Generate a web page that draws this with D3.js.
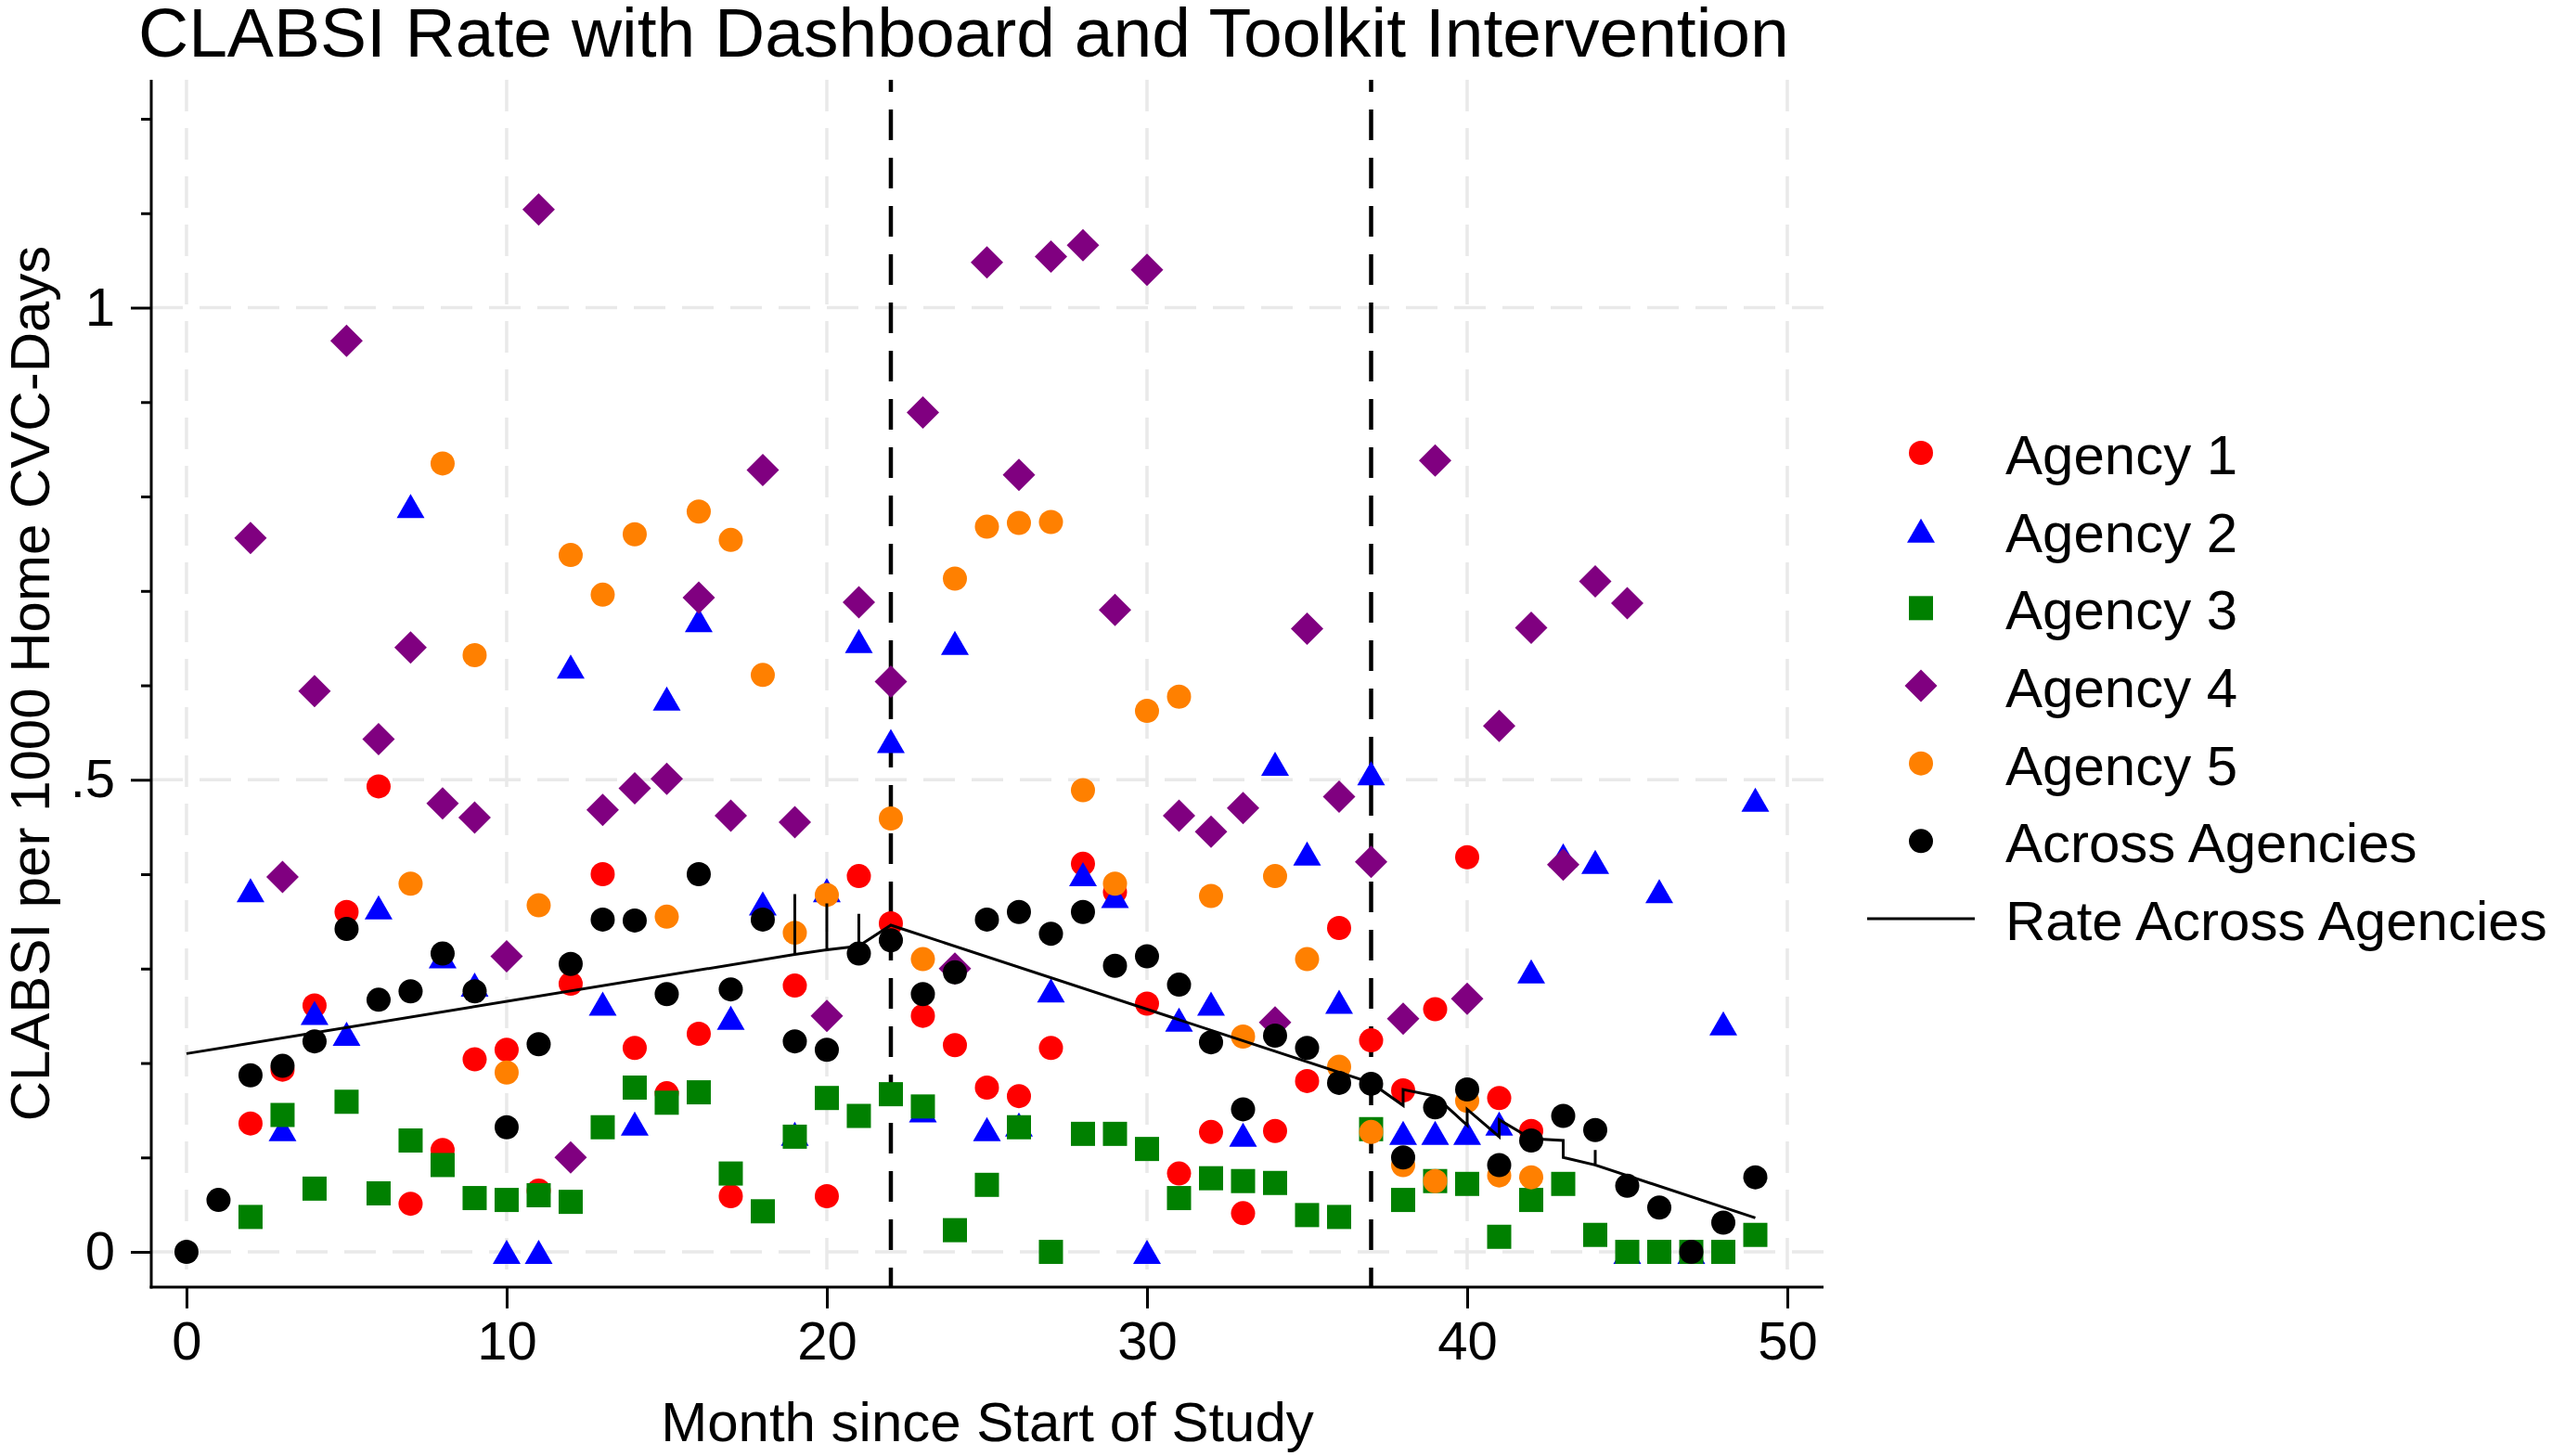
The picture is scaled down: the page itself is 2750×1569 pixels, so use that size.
<!DOCTYPE html>
<html>
<head>
<meta charset="utf-8">
<script src="https://d3js.org/d3.v7.min.js"></script>
<style>
    body { margin: 0; background: #fff; }
    text { font-family: "Liberation Sans", Arial, sans-serif; fill: #000; }
</style>
</head>
<body>
<div id="svgcontainer"></div>
<script>

// CLABSI rate per 1000 home CVC-days, [month, rate]
var agency1 = [[2,0.136],[3,0.193],[4,0.261],[5,0.36],[6,0.493],[7,0.051],[8,0.108],[9,0.204],[10,0.214],
    [11,0.065],[12,0.284],[13,0.40],[14,0.216],[15,0.168],[16,0.231],[17,0.059],[19,0.282],[20,0.059],
    [21,0.398],[22,0.348],[23,0.25],[24,0.219],[25,0.174],[26,0.165],[27,0.216],[28,0.411],[29,0.381],
    [30,0.263],[31,0.083],[32,0.127],[33,0.041],[34,0.128],[35,0.181],[36,0.343],[37,0.224],[38,0.171],
    [39,0.257],[40,0.418],[41,0.163],[42,0.128]];

var agency2 = [[2,0.383],[3,0.13],[4,0.253],[5,0.231],[6,0.365],[7,0.79],[8,0.313],[9,0.283],[10,0],
    [11,0],[12,0.62],[13,0.263],[14,0.136],[15,0.586],[16,0.669],[17,0.248],[18,0.369],[19,0.125],
    [20,0.383],[21,0.647],[22,0.541],[23,0.15],[24,0.645],[25,0.13],[26,0.135],[27,0.277],[28,0.40],
    [29,0.377],[30,0],[31,0.246],[32,0.263],[33,0.124],[34,0.517],[35,0.422],[36,0.265],[37,0.507],
    [38,0.126],[39,0.126],[40,0.126],[41,0.136],[42,0.297],[43,0.42],[44,0.413],[45,0],[46,0.382],
    [47,0],[48,0.242],[49,0.479]];

var agency3 = [[2,0.037],[3,0.145],[4,0.067],[5,0.159],[6,0.062],[7,0.118],[8,0.092],[9,0.057],[10,0.055],
    [11,0.06],[12,0.053],[13,0.132],[14,0.174],[15,0.158],[16,0.169],[17,0.083],[18,0.043],[19,0.122],
    [20,0.163],[21,0.144],[22,0.167],[23,0.154],[24,0.023],[25,0.071],[26,0.132],[27,0],[28,0.125],
    [29,0.125],[30,0.109],[31,0.057],[32,0.078],[33,0.075],[34,0.073],[35,0.039],[36,0.037],[37,0.13],
    [38,0.055],[39,0.075],[40,0.072],[41,0.016],[42,0.055],[43,0.072],[44,0.018],[45,0],[46,0],
    [47,0],[48,0],[49,0.018]];

var agency4 = [[2,0.756],[3,0.397],[4,0.594],[5,0.965],[6,0.543],[7,0.64],[8,0.475],[9,0.46],[10,0.313],
    [11,1.104],[12,0.10],[13,0.468],[14,0.491],[15,0.501],[16,0.693],[17,0.462],[18,0.828],[19,0.455],
    [20,0.25],[21,0.688],[22,0.604],[23,0.889],[24,0.30],[25,1.048],[26,0.823],[27,1.054],[28,1.066],
    [29,0.68],[30,1.04],[31,0.462],[32,0.445],[33,0.47],[34,0.243],[35,0.66],[36,0.482],[37,0.413],
    [38,0.247],[39,0.838],[40,0.268],[41,0.557],[42,0.661],[43,0.41],[44,0.71],[45,0.687]];

var agency5 = [[7,0.39],[8,0.835],[9,0.632],[10,0.19],[11,0.367],[12,0.738],[13,0.696],[14,0.76],[15,0.355],
    [16,0.784],[17,0.754],[18,0.611],[19,0.338],[20,0.378],[22,0.459],[23,0.31],[24,0.713],[25,0.768],
    [26,0.772],[27,0.773],[28,0.489],[29,0.39],[30,0.573],[31,0.588],[32,0.377],[33,0.228],[34,0.398],
    [35,0.31],[36,0.196],[37,0.127],[38,0.092],[39,0.075],[40,0.16],[41,0.081],[42,0.079]];

var acrossAgencies = [[0,0],[1,0.055],[2,0.187],[3,0.197],[4,0.223],[5,0.342],[6,0.267],[7,0.276],[8,0.316],
    [9,0.276],[10,0.132],[11,0.22],[12,0.305],[13,0.352],[14,0.351],[15,0.273],[16,0.40],[17,0.278],
    [18,0.352],[19,0.223],[20,0.214],[21,0.316],[22,0.33],[23,0.273],[24,0.296],[25,0.352],[26,0.36],
    [27,0.337],[28,0.36],[29,0.303],[30,0.313],[31,0.283],[32,0.222],[33,0.151],[34,0.229],[35,0.216],
    [36,0.179],[37,0.178],[38,0.10],[39,0.153],[40,0.172],[41,0.092],[42,0.118],[43,0.144],[44,0.129],
    [45,0.07],[46,0.047],[47,0],[48,0.031],[49,0.079]];

// fitted rate across agencies, in plotting order (repeated months give the small steps)
var rateLine = [[0,0.21],[19,0.315],[19,0.379],[19,0.315],[20,0.32],[20,0.369],[20,0.32],[21,0.324],
    [21,0.358],[21,0.324],[22,0.346],[37,0.179],[38,0.155],[38,0.172],[39,0.165],[40,0.134],[40,0.151],
    [41,0.122],[41,0.14],[42,0.12],[43,0.118],[43,0.10],[44,0.092],[44,0.108],[44,0.092],[49,0.036]];

var interventionMonths = [22, 37];
var xTicks = [0, 10, 20, 30, 40, 50];
var yTicks = [0, 0.5, 1];
var yTickLabels = ["0", ".5", "1"];
var yMinorTicks = [0.1, 0.2, 0.3, 0.4, 0.6, 0.7, 0.8, 0.9, 1.1, 1.2];

var legendLabels = ["Agency 1", "Agency 2", "Agency 3", "Agency 4", "Agency 5", "Across Agencies", "Rate Across Agencies"];

var width = 2750;
var height = 1569;

// plot region (window.top is read-only, so no "top" here)
var plotLeft = 163, plotRight = 1965, plotTop = 86, plotBottom = 1387;

var x = d3.scaleLinear().domain([-1.1, 51.13]).range([plotLeft, plotRight]);
var y = d3.scaleLinear().domain([-0.0373, 1.2413]).range([plotBottom, plotTop]);

var svg = d3.select("#svgcontainer")
    .append("svg").attr("width", width).attr("height", height);

svg.append("rect").attr("width", width).attr("height", height).attr("fill", "#fff");

// Grid
var grid = svg.append("g");
grid.selectAll(".vgrid").data(xTicks).enter()
    .append("line")
    .attr("x1", function (d) { return x(d); })
    .attr("x2", function (d) { return x(d); })
    .attr("y1", plotTop).attr("y2", plotBottom)
    .attr("stroke", "#e9e9e9").attr("stroke-width", 3.5)
    .attr("stroke-dasharray", "34 18");
grid.selectAll(".hgrid").data(yTicks).enter()
    .append("line")
    .attr("x1", plotLeft).attr("x2", plotRight)
    .attr("y1", function (d) { return y(d); })
    .attr("y2", function (d) { return y(d); })
    .attr("stroke", "#e9e9e9").attr("stroke-width", 3.5)
    .attr("stroke-dasharray", "34 18");

// Intervention start lines
svg.selectAll(".xline").data(interventionMonths).enter()
    .append("line")
    .attr("x1", function (d) { return x(d); })
    .attr("x2", function (d) { return x(d); })
    .attr("y1", plotTop).attr("y2", plotBottom)
    .attr("stroke", "#000").attr("stroke-width", 4.5)
    .attr("stroke-dasharray", "33 19")
    .attr("stroke-dashoffset", 20);

// Axes
var yAxis = d3.axisLeft(y).tickValues(yTicks).tickFormat(function (d, i) { return yTickLabels[i]; })
    .tickSize(22).tickPadding(17);
var yMinor = d3.axisLeft(y).tickValues(yMinorTicks).tickFormat("").tickSize(11);
var xAxis = d3.axisBottom(x).tickValues(xTicks).tickSize(23).tickPadding(14);

function styleAxis(g) {
    g.select(".domain").remove();
    g.selectAll("line").attr("stroke", "#000").attr("stroke-width", 3);
    g.selectAll("text").style("font-size", "58px").attr("fill", "#000");
}

svg.append("g").attr("transform", "translate(" + plotLeft + ",0)").call(yMinor).call(styleAxis);
svg.append("g").attr("transform", "translate(" + plotLeft + ",0)").call(yAxis).call(styleAxis);
svg.append("g").attr("transform", "translate(0," + plotBottom + ")").call(xAxis).call(styleAxis);

svg.append("line").attr("x1", plotLeft).attr("x2", plotLeft).attr("y1", plotTop).attr("y2", plotBottom + 1.5)
    .attr("stroke", "#000").attr("stroke-width", 3);
svg.append("line").attr("x1", plotLeft - 1.5).attr("x2", plotRight).attr("y1", plotBottom).attr("y2", plotBottom)
    .attr("stroke", "#000").attr("stroke-width", 3);

// Marker shapes
var shapes = {
    circle: "M13,0A13,13 0 1,1 -13,0A13,13 0 1,1 13,0Z",
    triangle: "M0,-13L15,13L-15,13Z",
    square: "M-13,-13H13V13H-13Z",
    diamond: "M0,-17.5L17.5,0L0,17.5L-17.5,0Z"
};

var series = [
    { data: agency1, shape: "circle", color: "#ff0000" },
    { data: agency2, shape: "triangle", color: "#0000ff" },
    { data: agency3, shape: "square", color: "#008000" },
    { data: agency4, shape: "diamond", color: "#800080" },
    { data: agency5, shape: "circle", color: "#ff8000" },
    { data: acrossAgencies, shape: "circle", color: "#000000" }
];

series.forEach(function (s) {
    svg.append("g").selectAll("path").data(s.data).enter()
        .append("path")
        .attr("d", shapes[s.shape])
        .attr("transform", function (d) { return "translate(" + x(d[0]) + "," + y(d[1]) + ")"; })
        .attr("fill", s.color);
});

var line = d3.line().x(function (d) { return x(d[0]); }).y(function (d) { return y(d[1]); });
svg.append("path").datum(rateLine)
    .attr("d", line)
    .attr("fill", "none").attr("stroke", "#000").attr("stroke-width", 3)
    .attr("stroke-linejoin", "miter");

// Titles
svg.append("text")
    .attr("x", 149).attr("y", 61)
    .style("font-size", "75px")
    .text("CLABSI Rate with Dashboard and Toolkit Intervention");

svg.append("text")
    .attr("x", (plotLeft + plotRight) / 2).attr("y", 1553)
    .attr("text-anchor", "middle")
    .style("font-size", "60px")
    .text("Month since Start of Study");

svg.append("text")
    .attr("transform", "translate(53," + ((plotTop + plotBottom) / 2) + ") rotate(-90)")
    .attr("text-anchor", "middle")
    .style("font-size", "60px")
    .text("CLABSI per 1000 Home CVC-Days");

// Legend
var legendY = d3.scaleLinear().domain([0, 6]).range([488, 990]);
var legend = svg.append("g");
legendLabels.forEach(function (label, i) {
    var ly = legendY(i);
    if (i < series.length) {
        legend.append("path")
            .attr("d", shapes[series[i].shape])
            .attr("transform", "translate(2070," + ly + ")")
            .attr("fill", series[i].color);
    } else {
        legend.append("line")
            .attr("x1", 2012).attr("x2", 2128)
            .attr("y1", ly).attr("y2", ly)
            .attr("stroke", "#000").attr("stroke-width", 3);
    }
    legend.append("text")
        .attr("x", 2161).attr("y", ly + 23)
        .style("font-size", "60px")
        .text(label);
});

</script>
</body>
</html>
